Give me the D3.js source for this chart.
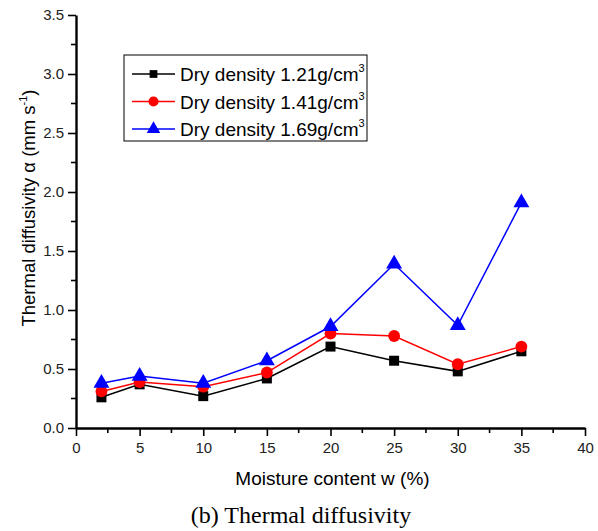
<!DOCTYPE html>
<html>
<head>
<meta charset="utf-8">
<script src="https://cdn.jsdelivr.net/npm/d3@7"></script>
<style>
  body { margin: 0; background: #fff; }
  svg { display: block; }
</style>
</head>
<body>
<script>
// moisture content w (%)
var moisture = [2, 5, 10, 15, 20, 25, 30, 35];

// thermal diffusivity (mm s-1) for each dry density
var dens121 = [0.26, 0.37, 0.27, 0.42, 0.69, 0.57, 0.48, 0.65];
var dens141 = [0.31, 0.39, 0.35, 0.47, 0.80, 0.78, 0.54, 0.69];
var dens169 = [0.38, 0.44, 0.38, 0.57, 0.86, 1.39, 0.87, 1.91];

var seriesNames = ["Dry density 1.21g/cm", "Dry density 1.41g/cm", "Dry density 1.69g/cm"];
var xTicks = [0, 5, 10, 15, 20, 25, 30, 35, 40];
var yTicks = [0, 0.5, 1.0, 1.5, 2.0, 2.5, 3.0, 3.5];

var width = 598, height = 531;
var margin = {left: 76, right: 13, top: 15, bottom: 103};

var svg = d3.select('body').append('svg')
  .attr('width', width)
  .attr('height', height);

svg.append('rect')
  .attr('width', width)
  .attr('height', height)
  .style('fill', '#fff');

var x = d3.scaleLinear().domain([0, 40]).range([margin.left, width - margin.right]);
var y = d3.scaleLinear().domain([0, 3.5]).range([height - margin.bottom, margin.top]);

var font = "Arial, 'Liberation Sans', sans-serif";

// minor ticks
var xMinor = d3.range(2.5, 40, 5);
var yMinor = d3.range(0.25, 3.5, 0.5);

svg.append('g')
  .selectAll('line')
  .data(xMinor)
  .enter()
  .append('line')
    .attr('x1', function(d) { return x(d); })
    .attr('x2', function(d) { return x(d); })
    .attr('y1', y(0))
    .attr('y2', y(0) + 5)
    .style('stroke', '#000')
    .style('stroke-width', 1.6);

svg.append('g')
  .selectAll('line')
  .data(yMinor)
  .enter()
  .append('line')
    .attr('x1', x(0) - 5)
    .attr('x2', x(0))
    .attr('y1', function(d) { return y(d); })
    .attr('y2', function(d) { return y(d); })
    .style('stroke', '#000')
    .style('stroke-width', 1.6);

var xAxis = svg.append('g')
  .attr('transform', 'translate(0,' + y(0) + ')')
  .call(d3.axisBottom(x).tickValues(xTicks).tickSize(8).tickPadding(6).tickSizeOuter(0));

var yAxis = svg.append('g')
  .attr('transform', 'translate(' + x(0) + ',0)')
  .call(d3.axisLeft(y).tickValues(yTicks).tickSize(8).tickPadding(4).tickSizeOuter(0)
    .tickFormat(d3.format('.1f')));

[xAxis, yAxis].forEach(function(a) {
  a.select('.domain').style('stroke', '#000').style('stroke-width', 2.4);
  a.selectAll('.tick line').style('stroke', '#000').style('stroke-width', 1.6);
  a.selectAll('.tick text')
    .style('font-family', font)
    .style('font-size', '15px')
    .style('fill', '#222');
});

// axis titles
svg.append('text')
  .attr('x', (x(0) + x(40)) / 2 + 2)
  .attr('y', 485)
  .attr('text-anchor', 'middle')
  .style('font-family', font)
  .style('font-size', '19px')
  .text('Moisture content w (%)');

var yTitle = svg.append('text')
  .attr('transform', 'translate(35,208) rotate(-90)')
  .attr('text-anchor', 'middle')
  .style('font-family', font)
  .style('font-size', '18.5px');
yTitle.append('tspan').text('Thermal diffusivity α (mm s');
yTitle.append('tspan').attr('dy', -8).style('font-size', '11px').text('-1');
yTitle.append('tspan').attr('dy', 8).text(')');

svg.append('text')
  .attr('x', 301)
  .attr('y', 523)
  .attr('text-anchor', 'middle')
  .style('font-family', "'Times New Roman', 'Liberation Serif', serif")
  .style('font-size', '24px')
  .text('(b) Thermal diffusivity');

// series
var series = [
  {name: seriesNames[0], values: dens121, color: '#000', marker: 'square'},
  {name: seriesNames[1], values: dens141, color: '#f00', marker: 'circle'},
  {name: seriesNames[2], values: dens169, color: '#00f', marker: 'triangle'}
];

var line = d3.line()
  .x(function(d) { return x(d[0]); })
  .y(function(d) { return y(d[1]); });

var symbolFor = function(m) {
  if (m === 'square') return d3.symbol().type(d3.symbolSquare).size(100)();
  if (m === 'circle') return d3.symbol().type(d3.symbolCircle).size(110)();
  return d3.symbol().type(d3.symbolTriangle).size(110)();
};

var sg = svg.selectAll('.series')
  .data(series)
  .enter()
  .append('g')
  .attr('class', 'series');

sg.append('path')
  .attr('d', function(s) { return line(d3.zip(moisture, s.values)); })
  .style('fill', 'none')
  .style('stroke', function(s) { return s.color; })
  .style('stroke-width', 1.5);

sg.selectAll('.pt')
  .data(function(s) {
    return s.values.map(function(v, i) { return {x: moisture[i], y: v, s: s}; });
  })
  .enter()
  .append('path')
    .attr('class', 'pt')
    .attr('transform', function(d) { return 'translate(' + x(d.x) + ',' + y(d.y) + ')'; })
    .attr('d', function(d) { return symbolFor(d.s.marker); })
    .style('fill', function(d) { return d.s.color; });

// legend
var legend = svg.append('g').attr('transform', 'translate(124,55)');
legend.append('rect')
  .attr('width', 243)
  .attr('height', 86)
  .style('fill', '#fff')
  .style('stroke', '#000')
  .style('stroke-width', 1);

var li = legend.selectAll('.item')
  .data(series)
  .enter()
  .append('g')
  .attr('class', 'item')
  .attr('transform', function(d, i) { return 'translate(0,' + (19 + i * 27.5) + ')'; });

li.append('line')
  .attr('x1', 8)
  .attr('x2', 51)
  .style('stroke', function(d) { return d.color; })
  .style('stroke-width', 1.5);

li.append('path')
  .attr('transform', 'translate(29.5,0)')
  .attr('d', function(d) {
    if (d.marker === 'square') return d3.symbol().type(d3.symbolSquare).size(60)();
    if (d.marker === 'circle') return d3.symbol().type(d3.symbolCircle).size(80)();
    return d3.symbol().type(d3.symbolTriangle).size(80)();
  })
  .style('fill', function(d) { return d.color; });

var lt = li.append('text')
  .attr('x', 56)
  .attr('y', 7)
  .style('font-family', font)
  .style('font-size', '19px');
lt.append('tspan').text(function(d) { return d.name; });
lt.append('tspan').attr('dy', -9).style('font-size', '11px').text('3');
</script>
</body>
</html>
